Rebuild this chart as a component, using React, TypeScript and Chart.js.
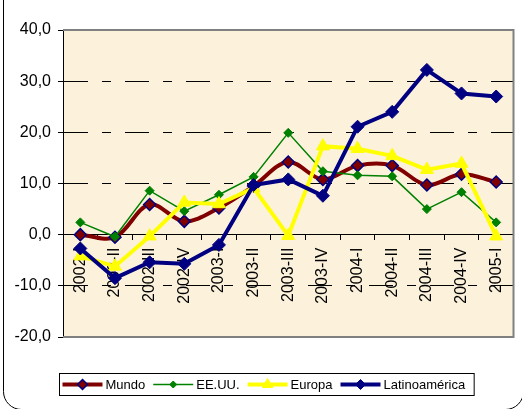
import React, { useEffect, useRef } from 'react';
import { Chart, registerables } from 'chart.js';

Chart.register(...registerables);

const categories = ['2002-I', '2002-II', '2002-III', '2002-IV', '2003-I', '2003-II', '2003-III', '2003-IV', '2004-I', '2004-II', '2004-III', '2004-IV', '2005-I'];
const mundo = [0.0, -0.5, 5.9, 2.6, 5.2, 9.5, 14.2, 10.8, 13.5, 13.5, 9.7, 11.8, 10.3];
const eeuu = [2.4, -0.4, 8.6, 4.6, 7.8, 11.3, 19.9, 12.4, 11.6, 11.4, 5.0, 8.3, 2.4];
const europa = [-4.2, -6.2, -0.3, 6.3, 6.0, 9.1, -0.2, 17.3, 16.8, 15.4, 12.7, 13.9, -0.3];
const latam = [-2.7, -8.5, -5.4, -5.7, -2.0, 9.7, 10.8, 7.6, 21.1, 24.0, 32.2, 27.6, 27.0];
const yTicks = [-20, -10, 0, 10, 20, 30, 40];

const FONT = '"Liberation Sans", Arial, sans-serif';
const NAVY = '#000080';
const MAROON = '#800000';
const GREEN = '#008000';
const YELLOW = '#FFFF00';

function drawMarker(ctx: CanvasRenderingContext2D, style: string, x: number, y: number, r: number, fill: string, stroke: string, bw: number) {
  ctx.save();
  ctx.beginPath();
  if (style === 'triangle') {
    ctx.moveTo(x, y - r);
    ctx.lineTo(x + r * 0.866, y + r * 0.5);
    ctx.lineTo(x - r * 0.866, y + r * 0.5);
  } else {
    ctx.moveTo(x - r, y);
    ctx.lineTo(x, y - r);
    ctx.lineTo(x + r, y);
    ctx.lineTo(x, y + r);
  }
  ctx.closePath();
  ctx.fillStyle = fill;
  ctx.fill();
  ctx.lineWidth = bw;
  ctx.strokeStyle = stroke;
  ctx.stroke();
  ctx.restore();
}

const decorPlugin = {
  id: 'decor',
  beforeDraw(chart: any) {
    const { ctx, chartArea: a } = chart;
    ctx.save();
    ctx.fillStyle = '#FCF2DC';
    ctx.fillRect(a.left, a.top, a.right - a.left, a.bottom - a.top);
    ctx.restore();
  },
  afterDraw(chart: any) {
    const { ctx, chartArea: a } = chart;
    // plot border (top, right, bottom) gray
    ctx.save();
    ctx.strokeStyle = '#808080';
    ctx.lineWidth = 2;
    ctx.beginPath();
    ctx.moveTo(a.left, a.top);
    ctx.lineTo(a.right, a.top);
    ctx.lineTo(a.right, a.bottom);
    ctx.lineTo(a.left, a.bottom);
    ctx.stroke();
    ctx.restore();

    // outer rounded frame
    ctx.save();
    const x0 = 3.5, y0 = -30, x1 = 523.5, y1 = 409.5, r = 18;
    ctx.strokeStyle = '#000';
    ctx.lineWidth = 1;
    ctx.beginPath();
    ctx.moveTo(x0 + r, y0);
    ctx.lineTo(x1 - r, y0);
    ctx.arcTo(x1, y0, x1, y0 + r, r);
    ctx.lineTo(x1, y1 - r);
    ctx.arcTo(x1, y1, x1 - r, y1, r);
    ctx.lineTo(x0 + r, y1);
    ctx.arcTo(x0, y1, x0, y1 - r, r);
    ctx.lineTo(x0, y0 + r);
    ctx.arcTo(x0, y0, x0 + r, y0, r);
    ctx.closePath();
    ctx.stroke();
    ctx.restore();

    // custom legend
    const ds = chart.data.datasets;
    ctx.save();
    ctx.font = '13px ' + FONT;
    const lineLen = 40, gap = 3, itemGap = 8, padL = 3, padR = 9;
    const widths = ds.map((d: any) => lineLen + gap + ctx.measureText(d.label).width);
    const total = padL + widths.reduce((s: number, w: number) => s + w, 0) + itemGap * (ds.length - 1) + padR;
    const cx = 266.5;
    const bx = Math.round(cx - total / 2) + 0.5;
    const by = 373.5, bh = 22;
    ctx.strokeStyle = '#000';
    ctx.lineWidth = 1;
    ctx.strokeRect(bx, by, total, bh);
    const cy = by + bh / 2;
    let x = bx + padL;
    ds.forEach((d: any, i: number) => {
      ctx.strokeStyle = d.borderColor;
      ctx.lineWidth = d.legendLineWidth;
      ctx.beginPath();
      ctx.moveTo(x, cy);
      ctx.lineTo(x + lineLen, cy);
      ctx.stroke();
      drawMarker(ctx, d.pointStyle === 'triangle' ? 'triangle' : 'diamond', x + lineLen / 2, cy, d.legendRadius, d.pointBackgroundColor, d.pointBorderColor, d.pointBorderWidth);
      ctx.fillStyle = '#000';
      ctx.textBaseline = 'middle';
      ctx.textAlign = 'left';
      ctx.fillText(d.label, x + lineLen + gap, cy + 0.5);
      x += widths[i] + itemGap;
    });
    ctx.restore();
  },
};

export default function App() {
  const ref = useRef<HTMLCanvasElement | null>(null);

  useEffect(() => {
    if (!ref.current) return;
    const chart = new Chart(ref.current, {
      type: 'line',
      data: {
        labels: categories,
        datasets: [
          {
            label: 'Mundo',
            data: mundo,
            borderColor: MAROON,
            borderWidth: 4,
            tension: 0.35,
            pointStyle: 'rectRot',
            pointRadius: 6,
            pointBackgroundColor: MAROON,
            pointBorderColor: NAVY,
            pointBorderWidth: 1.5,
            order: 4,
            legendLineWidth: 4,
            legendRadius: 5,
          } as any,
          {
            label: 'EE.UU.',
            data: eeuu,
            borderColor: GREEN,
            borderWidth: 1.5,
            tension: 0,
            pointStyle: 'rectRot',
            pointRadius: 4.5,
            pointBackgroundColor: GREEN,
            pointBorderColor: GREEN,
            pointBorderWidth: 1,
            order: 3,
            legendLineWidth: 1.5,
            legendRadius: 3.5,
          } as any,
          {
            label: 'Europa',
            data: europa,
            borderColor: YELLOW,
            borderWidth: 4,
            tension: 0,
            pointStyle: 'triangle',
            pointRadius: 7.5,
            pointBackgroundColor: YELLOW,
            pointBorderColor: YELLOW,
            pointBorderWidth: 1,
            order: 2,
            legendLineWidth: 4,
            legendRadius: 6,
          } as any,
          {
            label: 'Latinoamérica',
            data: latam,
            borderColor: NAVY,
            borderWidth: 4,
            tension: 0,
            pointStyle: 'rectRot',
            pointRadius: 6.5,
            pointBackgroundColor: NAVY,
            pointBorderColor: NAVY,
            pointBorderWidth: 1,
            order: 1,
            legendLineWidth: 4,
            legendRadius: 5,
          } as any,
        ],
      },
      options: {
        responsive: false,
        animation: false,
        devicePixelRatio: 1,
        layout: { padding: { top: 30, right: 6, bottom: 72, left: 0 } },
        plugins: {
          legend: { display: false },
          tooltip: { enabled: false },
          title: { display: false },
        },
        scales: {
          x: {
            type: 'category',
            position: { y: 0 } as any,
            offset: true,
            grid: {
              display: true,
              drawOnChartArea: false,
              drawTicks: true,
              tickLength: 5,
              tickColor: '#000',
              offset: true,
            },
            border: { display: true, color: '#000', width: 1 },
            ticks: {
              autoSkip: false,
              maxRotation: 90,
              minRotation: 90,
              padding: 8,
              color: '#000',
              font: { family: FONT, size: 16 },
            },
            afterFit: (s: any) => {
              s.paddingLeft = 0;
              s.paddingRight = 0;
            },
          } as any,
          y: {
            type: 'linear',
            min: -20,
            max: 40,
            afterBuildTicks: (s: any) => {
              s.ticks = yTicks.map((v) => ({ value: v }));
            },
            ticks: {
              padding: 7,
              color: '#000',
              font: { family: FONT, size: 16 },
              callback: (v: any) => Number(v).toFixed(1).replace('.', ','),
            },
            grid: {
              color: (c: any) =>
                c.tick && (c.tick.value === 0 || c.tick.value === 40 || c.tick.value === -20) ? 'rgba(0,0,0,0)' : '#000',
              tickColor: '#000',
              tickLength: 5,
              lineWidth: 1,
            },
            border: { display: true, color: '#000', width: 1, dash: [24, 14, 9, 14] },
            afterFit: (s: any) => {
              s.width = 63;
            },
          } as any,
        },
      },
      plugins: [decorPlugin],
    });
    return () => chart.destroy();
  }, []);

  return (
    <div style={{ position: 'absolute', left: 0, top: 0, width: 522, height: 409 }}>
      <canvas ref={ref} width={522} height={409} style={{ display: 'block' }} />
    </div>
  );
}
